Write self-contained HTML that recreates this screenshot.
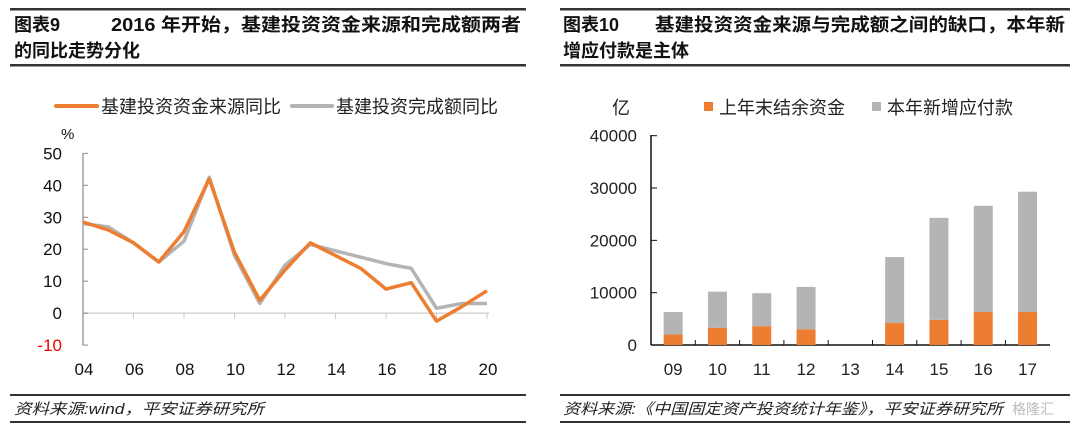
<!DOCTYPE html>
<html><head><meta charset="utf-8"><style>
body{margin:0;background:#fff;width:1079px;height:426px;overflow:hidden;font-family:"Liberation Sans","Noto Sans CJK SC",sans-serif;}
svg{position:absolute;left:0;top:0}
</style></head><body>
<svg width="1079" height="426">
<g>
<rect x="10" y="8" width="516" height="2.5" fill="#333"/>
<text x="14" y="31" font-size="18" font-weight="bold" fill="#111">图表9</text>
<text x="111" y="31" font-size="18" font-weight="bold" fill="#111" textLength="410" lengthAdjust="spacingAndGlyphs">2016 年开始，基建投资资金来源和完成额两者</text>
<text x="14" y="57" font-size="18" font-weight="bold" fill="#111">的同比走势分化</text>
<rect x="10" y="64" width="516" height="2.5" fill="#333"/>
</g>
<g>
<rect x="560" y="8" width="510" height="2.5" fill="#333"/>
<text x="563" y="31" font-size="18" font-weight="bold" fill="#111">图表10</text>
<text x="655" y="31" font-size="18" font-weight="bold" fill="#111" textLength="410" lengthAdjust="spacingAndGlyphs">基建投资资金来源与完成额之间的缺口，本年新</text>
<text x="563" y="57" font-size="18" font-weight="bold" fill="#111">增应付款是主体</text>
<rect x="560" y="64" width="510" height="2.5" fill="#333"/>
</g>
<g>
<rect x="10" y="394" width="516" height="2" fill="#333"/>
<text x="14" y="414" font-size="15" font-style="italic" fill="#222" textLength="250" lengthAdjust="spacingAndGlyphs">资料来源:wind，平安证券研究所</text>
<rect x="10" y="421" width="516" height="2" fill="#333"/>
</g>
<g>
<rect x="560" y="394" width="510" height="2" fill="#333"/>
<text x="563" y="414" font-size="15" font-style="italic" fill="#222" textLength="440" lengthAdjust="spacingAndGlyphs">资料来源:《中国固定资产投资统计年鉴》，平安证券研究所</text>
<text x="1012" y="414" font-size="14" fill="#bbb">格隆汇</text>
<rect x="560" y="421" width="510" height="2" fill="#333"/>
</g>
<g id="lc"></g>
<g id="bc"></g>
</svg>
<script>
const years=["04","05","06","07","08","09","10","11","12","13","14","15","16","17","18","19","20"];
const fundYoY=[28.5,26,22,16,25.5,42,19,4,13.5,22,18,14,7.5,9.5,-2.5,2,7];
const invYoY=[28,27,22,16,22.5,42.5,18,3,15,21.5,19.5,17.5,15.5,14,1.5,3,3];
const yTicks=[50,40,30,20,10,0,-10];
const xLabelYears=["04","06","08","10","12","14","16","18","20"];

const barCats=["09","10","11","12","13","14","15","16","17"];
const balance=[2000,3300,3600,3000,0,4200,4800,6300,6300];
const payables=[4300,6900,6300,8100,0,12600,19500,20300,23000];
const barTicks=[0,10000,20000,30000,40000];

const NS="http://www.w3.org/2000/svg";
function mk(p,t,a,txt){const e=document.createElementNS(NS,t);for(const k in a)e.setAttribute(k,a[k]);if(txt!=null)e.textContent=txt;p.appendChild(e);return e;}

// line chart
const lc=document.getElementById('lc');
const lx=i=>83+i*(487-83)/(years.length-1);
const ly=v=>313.1-v*3.195;
mk(lc,'line',{x1:83,y1:153,x2:83,y2:345,stroke:'#888','stroke-width':1.2});
mk(lc,'line',{x1:83,y1:ly(0),x2:489,y2:ly(0),stroke:'#ccc','stroke-width':1.2});
yTicks.forEach(v=>{
 const t=mk(lc,'text',{x:62,y:ly(v)+6,'font-size':17,'text-anchor':'end',fill:v<0?'#e00':'#111'},String(v));
 
 
 mk(lc,'line',{x1:83,y1:ly(v),x2:88,y2:ly(v),stroke:'#888'});
});
years.forEach((y,i)=>{ if(i%2==0&&i>0) mk(lc,'line',{x1:lx(i),y1:ly(0),x2:lx(i),y2:ly(0)+6,stroke:'#ccc'}); });
xLabelYears.forEach(y=>{
 const i=years.indexOf(y);
 const t=mk(lc,'text',{x:lx(i)+1,y:375,'font-size':17,'text-anchor':'middle',fill:'#111'},y);
 
 
});
const pct=mk(lc,'text',{x:61,y:139,'font-size':15,fill:'#111'},'%');


function path(arr,color,name){
 const d=arr.map((v,i)=>(i?'L':'M')+lx(i).toFixed(1)+','+ly(v).toFixed(1)).join('');
 const p=mk(lc,'path',{d:d,fill:'none',stroke:color,'stroke-width':3.5,'stroke-linejoin':'round'});
 
 
}
path(invYoY,'#b4b4b4','series-investment-yoy');
path(fundYoY,'#ed7d31','series-funding-yoy');
const lg1=mk(lc,'g',{});


mk(lg1,'line',{x1:56,y1:106,x2:97,y2:106,stroke:'#ed7d31','stroke-width':4,'stroke-linecap':'round'});
mk(lg1,'text',{x:101,y:113,'font-size':18,fill:'#222'},'基建投资资金来源同比');
mk(lg1,'line',{x1:292,y1:106,x2:332,y2:106,stroke:'#b4b4b4','stroke-width':4,'stroke-linecap':'round'});
mk(lg1,'text',{x:336,y:113,'font-size':18,fill:'#222'},'基建投资完成额同比');

// bar chart
const bc=document.getElementById('bc');
const step=44.3, bx=i=>651+step*(i+0.5);
const by=v=>345-v*(345-135.7)/40000;
mk(bc,'line',{x1:651,y1:135,x2:651,y2:345,stroke:'#111','stroke-width':1.5});
mk(bc,'line',{x1:651,y1:345,x2:1050,y2:345,stroke:'#111','stroke-width':1.5});
barTicks.forEach(v=>{
 mk(bc,'line',{x1:651,y1:by(v),x2:657,y2:by(v),stroke:'#111'});
 const t=mk(bc,'text',{x:637,y:by(v)+6,'font-size':17,'text-anchor':'end',fill:'#222'},String(v));
 
 
});
barCats.forEach((c,i)=>{
 if(i>0) mk(bc,'line',{x1:651+step*i,y1:345,x2:651+step*i,y2:340,stroke:'#111'});
 const g=mk(bc,'g',{});
 
 
 if(balance[i]>0) mk(g,'rect',{x:bx(i)-9.5,y:by(balance[i]),width:19,height:345-by(balance[i]),fill:'#ed7d31'});
 if(payables[i]>0) mk(g,'rect',{x:bx(i)-9.5,y:by(balance[i]+payables[i]),width:19,height:by(balance[i])-by(balance[i]+payables[i]),fill:'#b4b4b4'});
 const t=mk(bc,'text',{x:bx(i),y:375,'font-size':17,'text-anchor':'middle',fill:'#222'},c);
 
 
});
const unit=mk(bc,'text',{x:612,y:114,'font-size':18,fill:'#222'},'亿');


const lg2=mk(bc,'g',{});


mk(lg2,'rect',{x:704,y:102,width:9,height:9,fill:'#ed7d31'});
mk(lg2,'text',{x:719,y:114,'font-size':18,fill:'#222'},'上年末结余资金');
mk(lg2,'rect',{x:872,y:102,width:9,height:9,fill:'#b4b4b4'});
mk(lg2,'text',{x:887,y:114,'font-size':18,fill:'#222'},'本年新增应付款');
</script>
</body></html>
